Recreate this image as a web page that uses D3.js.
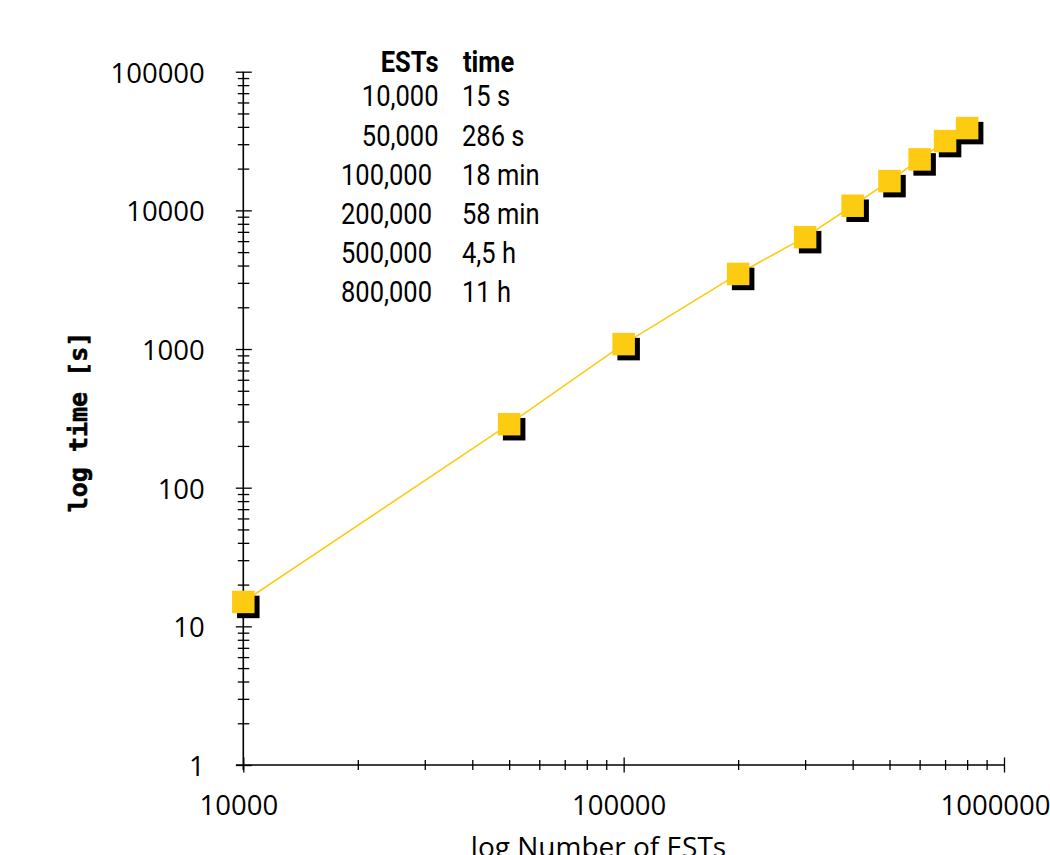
<!DOCTYPE html>
<html><head><meta charset="utf-8">
<script src="https://cdn.jsdelivr.net/npm/d3@7"></script>
<style>body{margin:0;background:#fff}svg{display:block}</style>
</head><body>
<svg id="c" width="1050" height="855"></svg>
<script>
// data
const ests = [10000, 50000, 100000, 200000, 300000, 400000, 500000, 600000, 700000, 800000];
const seconds = [15, 287, 1085, 3480, 6410, 10800, 16250, 23300, 31600, 39200];
const tableEsts = ["10,000", "50,000", "100,000", "200,000", "500,000", "800,000"];
const tableTimes = ["15 s", "286 s", "18 min", "58 min", "4,5 h", "11 h"];
const xMajor = [10000, 100000, 1000000];
const yMajor = [1, 10, 100, 1000, 10000, 100000];

const svg = d3.select("#c");
const x = d3.scaleLog().domain([1e4, 1e6]).range([243.3, 1004]);
const y = d3.scaleLog().domain([1, 1e5]).range([765, 71.7]);
const yellow = "#FCCB12";
const tickFont = "'Open Sans'";

// minor tick values
const xTicks = [];
for (let d = 1e4; d < 1e6; d *= 10) for (let k = 1; k < 10; k++) xTicks.push(d * k);
xTicks.push(1e6);
const yTicks = [];
for (let d = 1; d < 1e5; d *= 10) for (let k = 1; k < 10; k++) yTicks.push(d * k);
yTicks.push(1e5);

// y axis
const gy = svg.append("g").attr("transform", "translate(243.3,0)")
  .call(d3.axisLeft(y).tickValues(yTicks).tickFormat(d => yMajor.includes(d) ? d : "").tickSizeOuter(0));
gy.select(".domain").attr("stroke", "#000").attr("stroke-width", 1.6).attr("d", "M0," + y(1e5) + "V770");
gy.selectAll(".tick line").attr("stroke", "#000").attr("stroke-width", 1.3)
  .attr("x1", d => yMajor.includes(d) ? -7.5 : -5.5)
  .attr("x2", d => yMajor.includes(d) ? 8.5 : 6);
gy.selectAll(".tick text").attr("x", -38.5).attr("dy", "0.38em")
  .style("font-family", tickFont).style("font-size", "27.5px").attr("fill", "#000");

// x axis
const gx = svg.append("g").attr("transform", "translate(0,765)")
  .call(d3.axisBottom(x).tickValues(xTicks).tickFormat(d => xMajor.includes(d) ? d : "").tickSizeOuter(0));
gx.select(".domain").attr("stroke", "#000").attr("stroke-width", 1.6).attr("d", "M236,0H1004");
gx.selectAll(".tick line").attr("stroke", "#000").attr("stroke-width", 1.3)
  .attr("y1", d => xMajor.includes(d) ? -7.5 : -5)
  .attr("y2", d => xMajor.includes(d) ? 7.5 : 5);
gx.selectAll(".tick text").attr("y", 49.5).attr("dy", 0)
  .attr("dx", d => d === 1e6 ? -9 : -5)
  .style("font-family", tickFont).style("font-size", "27.5px").attr("fill", "#000");

// axis titles
svg.append("text").attr("x", 598.5).attr("y", 857).attr("text-anchor", "middle")
  .style("font-family", tickFont).style("font-size", "28px").text("log Number of ESTs");
svg.append("text").attr("transform", "translate(87,422) rotate(-90)").attr("text-anchor", "middle")
  .style("font-family", "DejaVu Sans Mono").style("font-weight", "bold").style("font-size", "25px")
  .attr("stroke", "#000").attr("stroke-width", 0.6)
  .text("log time [s]");

// line
const pts = ests.map((e, i) => [e, seconds[i]]);
svg.append("path").datum(pts)
  .attr("fill", "none").attr("stroke", yellow).attr("stroke-width", 1.6)
  .attr("d", d3.line().x(d => x(d[0])).y(d => y(d[1])));

// markers
const s = 22.5;
svg.append("g").selectAll("rect").data(pts).join("rect")
  .attr("x", d => x(d[0]) - s / 2 + 5).attr("y", d => y(d[1]) - s / 2 + 5)
  .attr("width", s).attr("height", s).attr("fill", "#000");
svg.append("g").selectAll("rect").data(pts).join("rect")
  .attr("x", d => x(d[0]) - s / 2).attr("y", d => y(d[1]) - s / 2)
  .attr("width", s).attr("height", s).attr("fill", yellow);

// table (condensed look via horizontal scale)
const sx = 0.85;
const tg = svg.append("g").attr("transform", `scale(${sx},1)`)
  .style("font-family", "Roboto").style("font-size", "30px").attr("fill", "#000");
tg.append("text").attr("x", 438.5 / sx).attr("y", 71.7).attr("text-anchor", "end").style("font-weight", "bold").text("ESTs");
tg.append("text").attr("x", 463 / sx).attr("y", 71.7).style("font-weight", "bold").text("time");
tg.selectAll(".e").data(tableEsts).join("text").attr("class", "e")
  .attr("x", d => (d.length < 7 ? 438.5 : 432) / sx)
  .attr("y", (d, i) => 106.5 + i * 39.2).attr("text-anchor", "end").text(d => d);
tg.selectAll(".t").data(tableTimes).join("text").attr("class", "t")
  .attr("x", 462 / sx).attr("y", (d, i) => 106.5 + i * 39.2).text(d => d);
</script>
</body></html>
